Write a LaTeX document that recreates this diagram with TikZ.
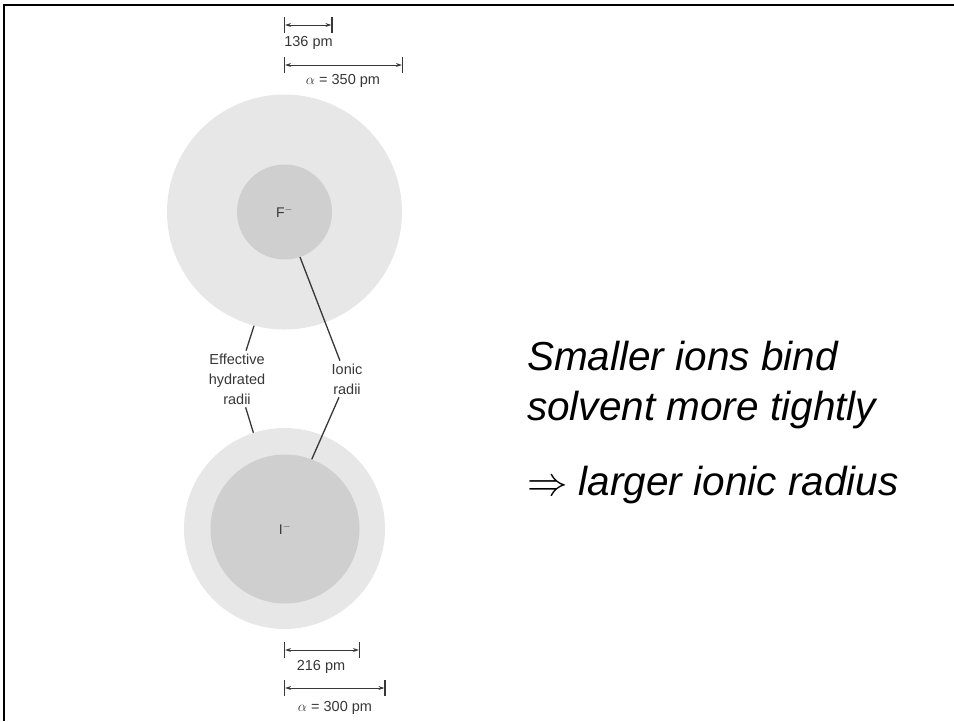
\RequirePackage{fix-cm}
\documentclass[tikz,border=0pt]{standalone}
\usepackage{fontspec}
\setmainfont{Liberation Sans}
\usepackage{xcolor}
\usepackage{tikz}
\usetikzlibrary{arrows.meta,positioning}

\definecolor{shellgray}{RGB}{231,231,231}
\definecolor{coregray}{RGB}{207,207,207}
\definecolor{ink}{RGB}{55,55,55}

\begin{document}
\begin{tikzpicture}[x=1pt,y=-1pt,
      shell/.style={circle,fill=shellgray,inner sep=0pt,minimum size=#1},
      core/.style={circle,fill=coregray,inner sep=0pt,minimum size=#1,
        text=ink,font=\fontsize{14}{16}\selectfont},
      lead/.style={draw=ink,line width=1.3pt},
      lbl/.style={align=center,text=ink,inner sep=1pt,outer sep=2pt,
        font=\fontsize{14.5}{20}\selectfont},
      dim/.style={draw=ink,line width=0.9pt,
        {Stealth[length=6pt,width=4pt]}-{Stealth[length=6pt,width=4pt]},
        shorten <=0.6pt,shorten >=0.6pt},
      tickbar/.style={draw=ink,line width=1.2pt},
      dimtext/.style={text=ink,inner sep=0pt,font=\fontsize{14.5}{16}\selectfont},
      bigtext/.style={anchor=base west,inner sep=0pt,
        font=\fontsize{40.5}{48}\selectfont\itshape}]
      \useasboundingbox (0,0) rectangle (954,721);
      \draw[line width=2pt] (4.3,721) -- (4.3,4.8) -- (954,4.8);

      % ions
      \node[shell=235pt] (Fout) at (284.5,212) {};
      \node[core=95pt] (Fin) at (284.5,212) {F$^-$};
      \node[shell=201pt] (Iout) at (284.5,528.5) {};
      \node[core=149pt] (Iin) at (285,529) {I$^-$};

      % radii labels
      \node[lbl] (eff) at (237,379) {Effective\\hydrated\\radii};
      \node[lbl] (ion) at (347,379) {Ionic\\radii};
      \draw[lead] (Fout.255) -- (eff);
      \draw[lead] (Iout.108) -- (eff);
      \draw[lead] (Fin.289) -- (ion);
      \draw[lead] (Iin.69) -- (ion);

      % dimensions
      \coordinate (fa) at (284.5,25);
      \coordinate (fb) at (332,25);
      \coordinate (fc) at (284.5,65);
      \coordinate (fd) at (402.5,65);
      \coordinate (ia) at (284.5,650);
      \coordinate (ib) at (359.5,650);
      \coordinate (ic) at (284.5,688);
      \coordinate (id) at (385,688);
      \foreach \p in {fa,fb,fc,fd,ia,ib,ic,id}
        \draw[tickbar] ([yshift=8pt]\p) -- ([yshift=-8pt]\p);
      \draw[dim] (fa) -- (fb);
      \draw[dim] (fc) -- (fd);
      \draw[dim] (ia) -- (ib);
      \draw[dim] (ic) -- (id);
      \node[dimtext] (f136) at (308.5,43) {136 pm};
      \node[dimtext] (f350) at (343,81) {$\alpha$ = 350 pm};
      \node[dimtext] (i216) at (321,667) {216 pm};
      \node[dimtext] (i300) at (335,708) {$\alpha$ = 300 pm};

      % statement
      \node[bigtext] (s1) at (527,370) {Smaller ions bind};
      \node[bigtext] (s2) at (527,420) {solvent more tightly};
      \node[bigtext] (s3) at (527,495) {$\Rightarrow$ larger ionic radius};
\end{tikzpicture}
\end{document}
